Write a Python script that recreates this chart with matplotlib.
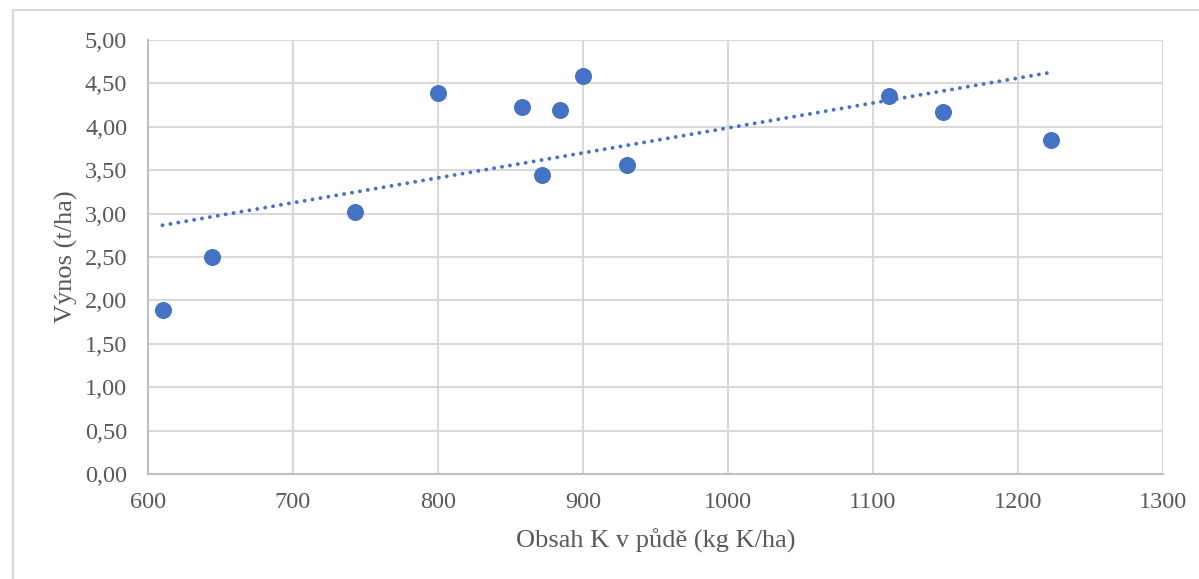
import numpy as np
import matplotlib
matplotlib.use("Agg")
import matplotlib.pyplot as plt
from matplotlib.patches import Rectangle
from matplotlib.ticker import FuncFormatter, MultipleLocator

# Data
k_content = [610, 644, 743, 800, 858, 872, 884, 900, 930, 1111, 1148, 1223]
yield_t = [1.89, 2.50, 3.02, 4.39, 4.23, 3.44, 4.19, 4.58, 3.56, 4.35, 4.17, 3.85]
x_label = "Obsah K v půdě (kg K/ha)"
y_label = "Výnos (t/ha)"

W, H = 1199, 579
fig = plt.figure(figsize=(W / 100, H / 100), dpi=100)
fig.patch.set_facecolor("white")

# outer chart frame
fig.patches.append(Rectangle((13 / W, -20 / H), (W + 20) / W, 1 + 10 / H, transform=fig.transFigure,
                             fill=False, edgecolor="#d9d9d9", linewidth=1.5))

L, R, T, B = 148, 1163, 40, 474
ax = fig.add_axes([L / W, 1 - B / H, (R - L) / W, (B - T) / H])

fam = ["Liberation Serif", "DejaVu Serif"]
plt.rcParams["font.family"] = fam
tc = "#595959"

ax.scatter(k_content, yield_t, s=150, color="#4472c4", zorder=3, linewidths=0)

coef = np.polyfit(k_content, yield_t, 1)
xs = np.array([min(k_content), max(k_content)])
ax.plot(xs, np.polyval(coef, xs), color="#4472c4", lw=2.8,
        dashes=(0.01, 2.05), dash_capstyle="round", zorder=2)

ax.set_xlim(600, 1300)
ax.set_ylim(0, 5)
ax.xaxis.set_major_locator(MultipleLocator(100))
ax.yaxis.set_major_locator(MultipleLocator(0.5))
ax.yaxis.set_major_formatter(FuncFormatter(lambda v, p: f"{v:.2f}".replace(".", ",")))
ax.grid(True, color="#d9d9d9", lw=1.5)
ax.set_axisbelow(True)
for s in ["top", "right"]:
    ax.spines[s].set_visible(False)
for s in ["left", "bottom"]:
    ax.spines[s].set_color("#bfbfbf")
    ax.spines[s].set_linewidth(1.5)
ax.tick_params(axis="y", length=0, pad=15, labelsize=17.5, labelcolor=tc)
ax.tick_params(axis="x", length=0, pad=13, labelsize=17.5, labelcolor=tc)
for lab in ax.get_xticklabels() + ax.get_yticklabels():
    lab.set_fontfamily(fam)

ax.set_xlabel(x_label, fontsize=19, color=tc, fontfamily=fam, labelpad=11)
ax.set_ylabel(y_label, fontsize=19, color=tc, fontfamily=fam, labelpad=5)

fig.savefig("out.png", dpi=100)
